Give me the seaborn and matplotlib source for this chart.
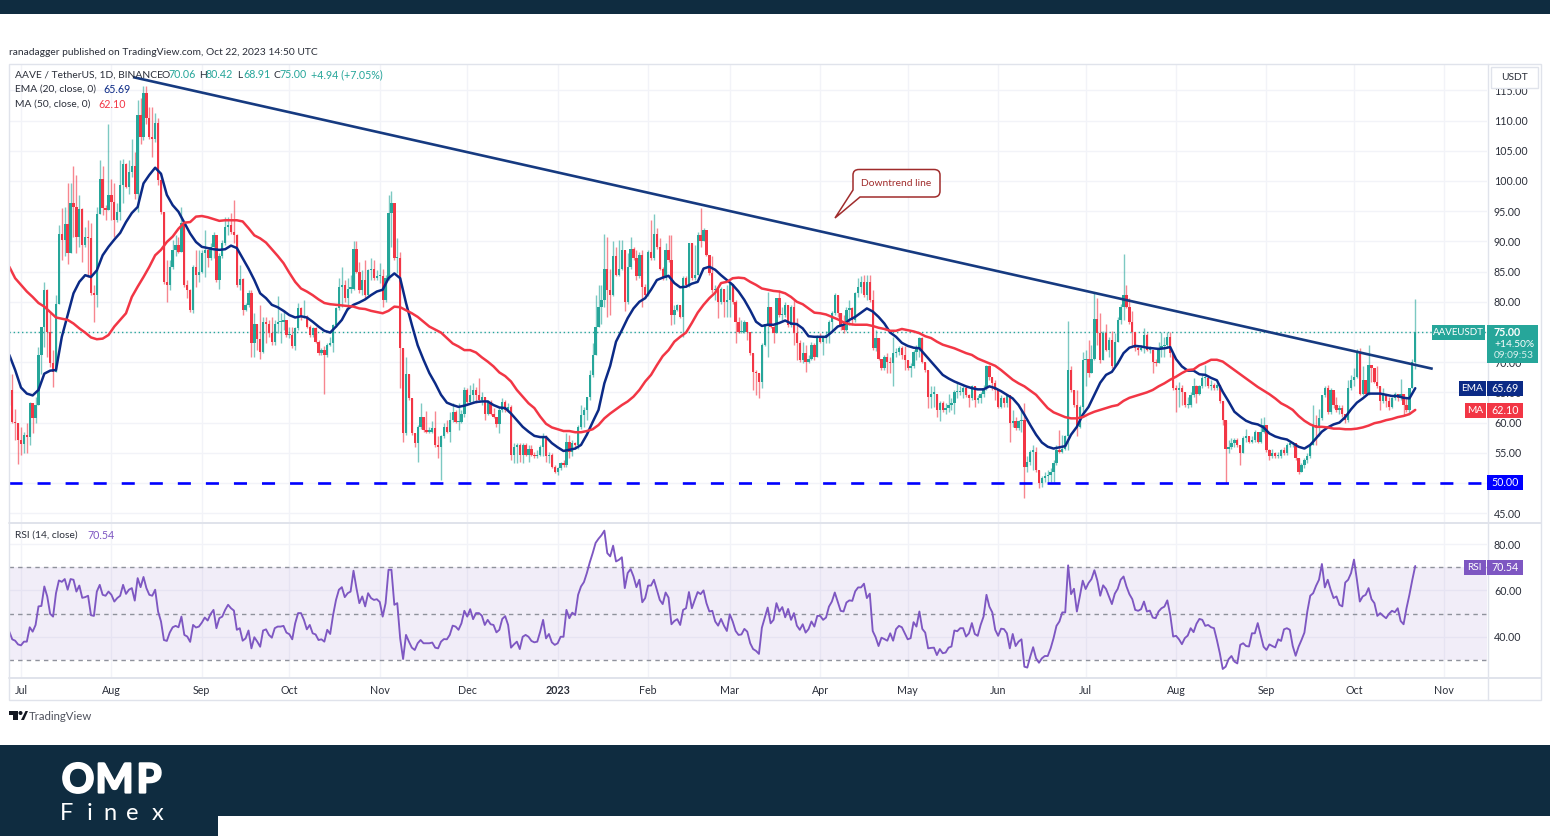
import numpy as np
import pandas as pd
import matplotlib
matplotlib.use('Agg')
import matplotlib.pyplot as plt
import matplotlib.patheffects as pe
import seaborn as sns
from matplotlib.patches import Rectangle, Polygon, PathPatch, Circle
from matplotlib.path import Path

sns.set_theme(style='white')
plt.rcParams['font.family'] = ['Lato', 'DejaVu Sans']
plt.rcParams['lines.scale_dashes'] = False

# daily candles, one (close, high, low) per day, open = previous close
first_open = 63.0
jun22 = [(65.4,68.1,62.9),(60.1,68.1,59.9),(59.9,62.3,57.1),(57.1,59.9,53.2)]
jul22 = [(56.5,59.3,54.6),(57.9,58.5,54.9),(57.6,59.9,54.9),(63.2,63.4,56.3),(60.7,63.2,58.2),(62.9,64.3,59.9),
         (71.2,72.5,62.9),(75.9,75.9,68.1),(81.9,83.3,72.5),(75.0,82.2,70.9),(69.8,78.1,69.2),(68.4,72.0,65.9),
         (79.7,81.1,68.4),(91.3,92.7,79.7),(90.3,95.5,86.9),(92.9,95.7,87.5),(88.0,99.6,86.3),(96.3,99.6,88.0),
         (95.7,102.4,90.8),(90.7,101.0,88.0),(95.3,97.7,89.1),(89.4,95.5,86.6),(90.8,92.4,89.1),(90.5,93.5,84.1),
         (81.4,93.0,81.1),(81.1,82.8,76.7),(94.6,95.7,79.2),(100.4,103.5,94.6),(95.5,102.4,94.3),(95.2,96.0,93.5),
         (97.7,109.5,95.2)]
aug22 = [(96.6,100.4,93.5),(93.5,99.6,90.8),(94.9,96.3,93.2),(99.3,103.5,93.5),(102.8,103.7,96.3),(99.0,102.9,98.8),
         (101.5,103.5,97.9),(102.4,107.0,100.7),(97.9,104.8,97.1),(110.9,113.4,94.9),(107.3,113.7,106.2),(114.5,115.8,106.8),
         (110.4,115.8,109.5),(107.3,112.3,107.0),(107.0,112.3,104.0),(109.6,111.2,106.5),(100.1,110.4,99.3),(94.9,101.2,94.6),
         (83.3,94.9,83.0),(82.8,86.9,80.0),(85.8,86.9,81.9),(88.6,90.2,85.5),(89.4,91.0,87.5),(88.3,90.8,88.0),
         (93.0,95.7,88.3),(82.8,93.0,82.5),(81.9,83.6,80.6),(78.6,82.2,78.3),(85.8,86.1,78.1),(84.4,88.6,82.5),
         (85.0,88.6,83.3)]
sep22 = [(88.0,88.6,84.7),(88.6,91.9,84.1),(87.2,89.1,85.8),(89.1,89.7,87.0),(91.1,91.6,87.2),(83.6,91.1,83.3),
         (87.5,88.0,82.2),(89.7,90.2,87.2),(92.4,94.1,89.4),(92.7,94.1,91.1),(91.6,94.7,91.3),(91.1,96.9,89.7),
         (82.8,91.3,82.5),(83.7,86.1,82.0),(78.6,83.9,77.8),(79.5,79.8,78.4),(81.4,82.0,79.2),(73.1,82.0,70.9),
         (76.3,78.1,70.9),(73.9,76.4,72.0),(71.7,79.5,70.6),(76.7,77.5,71.5),(76.4,77.5,73.1),(74.8,77.0,74.2),
         (73.4,77.5,72.9),(76.4,77.0,72.9),(76.7,80.9,74.8),(76.7,78.1,73.1),(77.0,78.6,75.3),(74.5,77.0,74.2)]
oct22 = [(74.5,75.9,74.0),(72.6,75.9,72.3),(75.6,75.9,72.0),(78.9,79.8,75.3),(77.5,79.2,77.0),(77.5,80.3,77.3),
         (75.9,77.8,75.6),(74.5,76.2,74.2),(75.6,75.9,74.2),(73.4,75.9,73.1),(71.5,73.7,71.2),(72.0,72.3,71.2),
         (71.2,72.6,64.8),(72.9,73.1,70.9),(73.1,74.2,72.6),(76.2,76.4,71.7),(78.9,79.2,75.9),(82.5,83.9,78.6),
         (82.8,85.8,79.2),(80.6,83.6,80.0),(82.2,83.9,78.6),(82.2,84.4,81.4),(88.8,90.0,82.0),(85.0,90.0,84.7),
         (82.0,86.6,81.4),(83.6,85.3,81.1),(81.1,86.9,80.6),(85.3,85.5,80.9),(85.5,87.2,83.6),(83.9,86.9,83.6),
         (84.2,85.3,83.6)]
nov22 = [(84.2,86.4,83.1),(80.3,85.5,79.2),(83.9,84.4,80.0),(94.7,97.7,83.6),(96.3,98.3,89.1),(87.2,96.3,86.9),
         (87.2,90.5,84.7),(72.3,88.3,65.7),(58.2,72.3,56.8),(68.0,70.9,58.0),(64.0,68.0,63.7),(58.2,64.0,58.0),
         (56.7,58.2,56.0),(59.3,59.6,53.5),(60.9,63.2,59.0),(58.8,60.9,58.5),(58.5,62.0,58.2),(58.5,59.3,58.2),
         (59.1,60.2,58.2),(56.3,62.0,56.0),(56.0,57.7,54.1),(57.7,58.0,50.5),(59.3,59.9,57.4),(58.5,60.4,58.2),
         (60.4,61.8,56.8),(61.8,63.2,60.1),(60.1,62.1,59.9),(60.1,63.2,58.8),(61.5,62.1,59.9),(65.4,65.9,61.0)]
dec22 = [(63.4,65.7,62.9),(64.6,66.2,63.2),(65.4,66.5,63.2),(64.6,65.9,63.2),(63.7,67.3,63.4),(64.3,65.1,62.9),
         (61.5,64.3,60.4),(63.4,63.7,61.2),(61.5,63.7,61.2),(61.0,62.4,60.7),(59.8,61.0,59.3),(62.1,62.6,58.2),
         (63.4,64.0,61.8),(62.1,63.7,61.8),(62.6,63.2,61.8),(54.6,62.9,53.8),(56.0,56.6,53.3),(56.3,56.6,53.3),
         (54.6,56.6,53.5),(56.3,56.6,53.3),(54.6,56.6,54.4),(55.7,56.3,53.5),(54.6,56.3,54.4),(54.4,55.2,54.1),
         (54.6,55.5,54.1),(56.0,56.3,54.4),(57.8,58.2,54.4),(54.4,57.9,53.5),(54.6,55.2,53.3),(52.7,54.9,52.4),
         (51.9,53.0,51.6)]
jan23 = [(52.4,52.7,51.3),(53.3,53.5,52.1),(53.0,53.8,52.7),(56.8,58.2,52.7),(55.2,57.9,54.1),(56.6,57.1,54.4),
         (56.3,56.8,55.7),(59.3,59.6,55.7),(61.2,62.9,59.0),(62.1,62.6,59.3),(64.3,64.3,60.4),(67.9,68.7,63.7),
         (71.2,73.1,67.6),(75.9,81.1,71.2),(79.2,82.8,75.9),(80.3,82.8,76.4),(85.5,91.3,79.2),(82.0,90.8,77.5),
         (81.1,85.5,77.8),(87.5,90.0,80.9),(84.4,89.1,84.2),(85.5,90.2,84.2),(88.6,90.2,85.3),(80.0,88.6,78.4),
         (85.8,88.0,79.7),(88.8,90.8,85.5),(87.2,89.1,86.9),(84.2,88.6,83.6),(87.7,88.3,83.9),(82.5,88.6,79.2),
         (81.1,83.0,80.9)]
feb23 = [(88.3,88.6,80.9),(87.2,93.5,86.9),(91.3,94.5,86.9),(89.1,92.2,88.8),(85.5,90.5,85.3),(83.9,85.8,83.6),
         (88.6,89.7,83.6),(87.0,91.0,86.6),(77.8,91.0,76.2),(78.6,79.5,76.4),(79.5,79.7,78.4),(77.5,79.5,77.3),
         (83.9,84.2,74.2),(82.8,84.2,82.5),(89.7,89.7,82.5),(83.9,89.7,83.6),(84.4,89.4,83.6),(91.0,91.5,84.4),
         (90.0,95.5,89.0),(91.9,92.2,90.0),(87.7,91.9,87.5),(84.7,87.7,84.4),(82.0,87.5,81.4),(82.2,82.8,80.3),
         (80.0,82.2,77.3),(82.2,82.5,79.7),(80.0,82.2,77.5),(80.3,82.8,77.5)]
mar23 = [(83.0,83.3,77.5),(80.0,83.0,79.7),(76.7,80.3,73.1),(75.0,77.5,74.8),(75.0,77.0,74.8),(76.7,77.0,74.8),
         (75.0,76.7,73.7),(71.5,75.0,71.2),(68.4,71.5,65.4),(68.2,68.7,64.6),(66.8,68.2,64.0),(72.8,73.1,65.7),
         (76.4,76.4,72.6),(79.2,81.7,70.9),(75.9,79.2,75.6),(74.8,76.2,73.1),(80.6,80.6,74.8),(77.8,82.0,77.5),
         (77.8,79.2,77.0),(79.5,80.0,77.5),(76.2,79.5,75.9),(79.2,79.5,75.9),(74.8,80.3,72.8),(73.1,77.3,70.4),
         (70.4,73.7,70.1),(71.5,73.4,69.8),(70.1,72.8,68.4),(70.6,71.2,69.8),(72.8,73.4,70.4),(70.9,73.1,70.4),
         (74.2,74.5,70.9)]
apr23 = [(73.4,74.8,73.1),(74.0,74.2,71.2),(74.5,75.1,73.1),(76.7,77.0,73.1),(78.1,78.4,75.3),(81.1,81.5,77.8),
         (78.1,81.1,77.5),(76.2,78.1,75.3),(75.3,77.8,74.8),(78.6,79.2,75.1),(78.9,80.3,76.2),(77.0,79.2,76.2),
         (81.4,81.7,76.7),(82.5,83.9,80.8),(83.3,84.2,81.4),(81.1,84.4,80.8),(83.3,84.4,80.3),(80.3,84.4,80.0),
         (72.3,81.9,72.0),(74.0,75.3,71.8),(70.6,74.0,70.4),(69.0,70.6,68.7),(70.9,71.2,68.7),(70.1,71.5,68.2),
         (69.8,70.9,68.2),(71.5,74.2,66.0),(71.7,72.3,70.9),(72.3,72.6,71.2),(71.2,72.6,70.6),(70.4,72.6,68.7)]
may23 = [(69.0,70.4,68.7),(69.3,69.8,67.6),(71.7,72.0,69.0),(72.3,72.8,70.4),(74.0,74.2,70.9),(70.1,74.2,69.8),
         (68.7,70.1,68.4),(64.3,68.7,62.4),(64.8,66.0,62.4),(64.8,66.0,62.6),(62.1,64.8,61.0),(63.2,63.5,60.2),
         (62.1,63.5,61.8),(62.4,63.2,61.5),(62.9,64.8,61.8),(63.2,64.0,62.1),(65.1,65.4,61.5),(65.1,66.8,64.0),
         (65.1,66.0,64.6),(65.7,66.0,64.0),(64.6,66.0,64.3),(64.0,64.8,62.6),(66.0,66.2,63.7),(63.7,66.0,62.6),
         (64.0,64.6,63.2),(64.8,65.1,63.2),(65.7,66.2,64.3),(69.3,69.5,65.4),(67.6,69.5,67.1),(66.5,67.6,65.4),
         (65.4,67.1,63.7)]
jun23 = [(62.6,65.4,62.4),(64.0,64.6,62.4),(63.2,64.3,62.6),(64.6,64.8,62.6),(59.9,64.6,56.8),(60.2,62.1,59.3),
         (59.1,61.0,58.8),(60.2,60.4,58.8),(60.4,62.1,58.5),(52.7,63.2,47.5),(53.5,54.4,51.9),(55.2,55.5,53.0),
         (55.2,56.3,52.2),(52.2,56.0,51.9),(50.0,52.2,49.1),(50.8,51.1,49.4),(51.1,51.9,50.2),(51.3,52.2,50.2),
         (51.9,52.4,50.2),(53.3,53.8,50.2),(55.5,56.3,53.0),(55.2,58.8,54.9),(55.7,58.0,54.9),(57.7,58.0,55.5),
         (68.7,76.9,55.5),(65.4,69.3,65.1),(62.9,65.4,62.6),(59.3,65.4,57.7),(62.6,62.9,59.1),(70.4,71.7,61.0)]
jul23 = [(70.6,72.0,66.0),(68.2,73.7,67.6),(70.6,72.8,68.2),(77.1,81.4,70.4),(74.8,80.6,72.8),(70.4,78.1,69.8),
         (74.8,75.1,70.4),(72.0,76.4,71.8),(73.7,74.2,70.9),(69.3,75.1,69.0),(73.4,74.8,69.3),(77.0,77.5,73.4),
         (79.2,79.7,76.4),(81.1,87.9,77.0),(79.2,82.8,78.9),(76.7,80.6,76.4),(75.0,78.4,72.6),(72.3,75.0,71.8),
         (72.0,72.8,71.2),(72.3,72.8,71.8),(74.5,75.6,71.5),(72.0,74.8,71.8),(72.0,72.6,71.5),(70.1,72.0,68.2),
         (69.8,70.6,69.3),(72.3,73.4,69.8),(72.6,75.0,70.9),(72.8,74.2,70.9),(74.2,75.0,72.3),(71.5,75.0,70.9),
         (65.7,71.5,65.4)]
aug23 = [(65.4,66.2,61.8),(65.7,66.8,62.6),(65.1,66.2,62.9),(62.9,65.1,62.6),(62.9,64.3,62.4),(64.6,65.1,62.6),
         (66.0,67.3,64.3),(64.8,66.2,63.2),(66.0,66.2,64.6),(67.3,67.9,65.7),(67.3,69.5,66.0),(66.0,67.3,65.7),
         (66.2,67.1,65.4),(65.7,66.5,65.4),(66.2,66.8,65.4),(63.5,66.2,63.2),(60.4,63.5,59.6),(55.6,60.4,50.0),
         (56.0,57.1,54.9),(56.6,57.4,55.7),(57.1,57.4,56.0),(56.3,57.4,56.0),(54.9,56.3,53.0),(57.4,57.7,54.9),
         (57.7,59.0,56.8),(56.8,57.7,56.6),(57.1,57.7,56.6),(58.5,58.8,56.8),(56.8,58.5,56.6),(58.5,60.7,56.6),
         (59.6,61.0,58.2)]
sep23 = [(55.5,59.6,55.2),(54.4,55.7,53.8),(54.9,55.7,54.1),(54.4,55.2,54.1),(54.5,55.2,54.2),(55.5,55.7,54.2),
         (54.9,56.0,54.6),(56.3,56.6,54.6),(56.6,56.8,56.0),(56.6,56.8,56.0),(54.1,56.6,53.8),(51.9,54.1,51.5),
         (53.0,53.3,51.9),(53.8,54.1,52.4),(54.4,54.9,53.3),(56.3,56.6,54.1),(59.6,62.9,56.3),(59.3,61.2,56.3),
         (60.7,62.2,57.7),(64.6,64.6,60.4),(65.7,66.0,64.3),(61.8,66.2,61.5),(65.4,65.7,61.5),(62.9,65.1,62.4),
         (62.1,64.3,61.8),(62.4,62.9,61.5),(61.5,62.9,61.0),(60.4,61.5,59.9),(65.7,67.1,60.1),(67.1,67.9,65.4)]
oct23 = [(67.6,69.0,66.0),(71.7,72.2,67.3),(64.8,72.3,64.6),(67.1,69.3,64.6),(64.8,67.1,64.6),(69.5,72.8,64.6),
         (69.0,69.5,66.8),(66.8,69.0,66.5),(66.0,69.3,65.7),(63.5,66.0,62.1),(64.6,65.7,63.2),(63.5,64.6,62.6),
         (62.6,64.3,62.1),(64.0,64.3,62.4),(64.8,65.1,63.7),(64.0,64.8,63.5),(64.8,67.2,63.7),(62.9,64.8,61.2),
         (62.1,64.0,61.8),(65.7,65.7,61.5),(70.06,70.5,65.7),(75.0,80.42,68.91)]

ema20 = [71.2,68.7,65.8,64.8,64.5,65.4,68.1,68.6,68.7,74.2,77.8,81.4,83.3,84.4,84.1,85.2,87.7,89.1,90.3,91.4,93.2,94.7,95.7,99.6,
         101.0,102.2,101.2,97.7,96.0,94.9,93.1,91.3,89.9,89.1,
         88.9,88.7,88.6,88.7,89.3,88.9,87.2,85.5,83.6,81.4,80.6,79.5,79.1,78.5,77.8,77.4,77.6,77.4,76.7,75.9,75.2,74.9,75.9,77.0,
         78.8,79.5,79.9,80.4,81.1,81.7,82.0,83.9,84.7,83.9,79.8,76.2,72.8,70.4,68.2,66.5,64.6,63.3,
         62.9,62.6,62.8,63.1,63.4,63.5,63.5,62.9,62.5,62.4,61.5,60.4,59.3,58.5,57.8,57.6,57.6,56.6,55.9,55.3,55.5,55.7,56.3,58.0,
         60.1,62.1,66.5,69.4,73.4,75.3,77.3,78.9,80.0,80.6,82.0,83.6,84.0,84.3,83.1,82.4,82.5,83.0,83.3,85.5,85.8,85.3,84.4,83.6,
         82.8,81.7,80.3,78.6,76.7,76.0,76.2,76.2,76.5,76.9,76.4,76.3,
         75.6,74.3,74.2,74.2,74.2,75.0,75.9,76.2,77.0,77.5,78.2,78.9,78.4,77.5,76.4,74.9,74.2,73.2,72.7,72.4,72.3,71.2,70.1,69.0,
         67.9,67.3,66.8,66.4,66.0,65.7,65.5,65.5,66.0,65.7,65.2,64.6,64.0,62.9,61.3,59.6,58.0,56.7,56.0,55.7,55.9,56.1,58.0,59.3,
         61.3,62.6,64.6,66.6,67.9,68.4,69.8,71.5,72.4,72.7,72.6,72.4,72.3,72.2,72.3,72.5,70.5,69.3,68.6,68.6,
         68.0,67.9,67.4,67.0,65.1,63.5,61.8,61.0,60.3,59.9,59.7,59.2,58.2,57.7,57.4,57.2,56.6,56.0,55.7,56.3,57.4,58.5,59.2,59.7,
         60.0,60.9,62.2,63.3,64.0,64.8,64.8,64.8,64.6,64.4,64.4,64.1,64.0,65.69]
ma50 = [85.8,83.9,82.8,81.7,80.8,79.8,79.2,78.3,77.4,77.2,77.0,76.4,75.6,74.9,74.1,73.8,73.9,74.5,75.9,77.0,78.1,80.8,82.5,84.1,
        85.8,87.7,88.6,89.9,90.8,92.1,93.1,93.2,94.1,94.2,
        94.0,93.7,93.4,93.5,93.5,93.5,93.3,92.2,91.0,90.5,89.8,88.7,87.6,86.4,84.8,83.3,82.2,81.7,81.1,80.4,79.8,79.6,79.5,79.4,
        79.3,79.2,78.9,78.8,78.5,78.3,78.1,78.5,79.2,79.1,78.6,78.1,77.5,76.7,75.9,75.4,74.9,74.0,
        73.1,72.6,72.0,72.0,71.6,70.8,70.1,69.3,68.3,67.7,66.8,65.4,64.3,63.2,62.4,61.0,59.8,59.2,58.9,58.6,58.6,58.4,58.4,58.6,
        58.9,59.6,60.7,61.5,62.2,62.9,63.5,64.3,65.4,66.8,67.9,69.5,71.0,72.0,73.4,74.2,74.9,76.5,78.2,79.5,80.6,81.5,83.1,83.3,
        83.9,84.0,83.9,83.3,82.8,82.2,82.0,81.8,81.7,81.4,80.8,80.0,
        79.6,78.9,78.2,78.1,77.9,77.5,77.1,76.6,76.3,76.2,76.2,76.2,76.0,75.7,75.5,75.2,75.2,75.5,75.3,75.1,74.8,74.3,74.0,73.4,
        72.9,72.6,72.3,71.9,71.5,71.2,70.6,70.2,69.8,69.4,68.7,67.9,67.1,66.5,66.0,65.3,64.6,63.5,62.4,61.7,61.3,60.9,60.7,60.7,
        60.9,61.4,61.8,62.1,62.4,62.7,62.9,63.6,64.1,64.4,64.7,65.0,65.4,66.0,66.5,67.1,67.6,68.2,68.7,68.8,
        69.5,69.9,70.4,70.4,70.1,69.4,68.7,68.0,67.3,66.6,65.9,65.3,64.7,64.0,63.2,62.7,62.1,61.1,60.3,59.7,59.3,59.3,59.2,59.0,
        59.0,58.9,58.9,59.0,59.2,59.5,59.9,60.1,60.4,60.6,60.9,61.1,61.4,62.1]

rsi14 = [42.2,38.9,38.3,36.7,36.3,37.9,37.9,44.1,42.2,45.1,53.1,53.3,61.7,57.4,49.9,48.7,58.8,64.3,63.7,64.9,
         60.3,64.9,64.6,59.5,62.1,56.8,57.1,57.7,49.3,49.0,59.5,62.4,58.1,57.7,59.5,58.1,55.2,56.7,57.7,62.4,
         58.5,60.3,61.0,55.6,65.3,61.4,65.8,61.0,58.1,57.7,60.3,50.9,46.6,38.6,38.2,41.8,44.1,44.7,44.1,48.7,
         40.8,40.1,37.8,45.1,44.0,44.4,46.1,48.3,47.0,49.8,51.6,43.7,48.0,48.7,51.6,53.8,52.3,51.3,43.0,43.7,
         38.3,39.3,42.7,35.0,39.8,37.9,35.7,42.7,43.2,40.8,39.6,43.7,44.4,44.4,44.7,41.8,41.1,38.9,45.8,50.2,
         50.2,47.3,43.2,45.1,41.5,41.0,38.6,38.9,37.9,43.0,41.2,49.4,55.9,60.3,61.4,57.1,58.8,59.5,68.5,61.0,
         54.5,57.4,53.1,58.8,56.7,55.9,56.2,55.0,48.7,54.5,
         68.9,68.9,53.8,54.5,39.3,30.4,40.8,37.9,35.3,34.3,37.2,38.6,37.2,37.2,37.2,37.5,35.3,35.0,37.9,39.0,
         38.9,40.8,44.8,44.4,43.0,45.8,51.2,48.7,51.9,47.6,50.2,50.2,49.1,45.1,47.3,45.4,45.1,41.9,43.0,47.7,
         48.9,45.1,35.3,36.7,37.9,34.7,40.0,40.8,40.0,38.2,37.6,37.9,42.2,47.3,39.3,41.2,37.6,36.5,37.2,40.0,
         40.0,51.6,48.0,50.4,49.4,58.1,61.7,63.6,67.5,72.1,76.1,80.5,82.3,83.8,85.8,76.1,74.7,79.3,72.5,73.2,
         74.3,61.0,67.5,69.2,66.0,61.4,64.6,54.9,56.7,62.1,62.1,64.6,60.3,55.9,54.1,59.1,56.9,45.4,46.8,47.6,
         45.1,51.6,52.3,59.3,52.3,55.9,59.3,58.4,60.0,54.5,50.9,51.2,46.6,44.8,47.7,44.8,42.5,49.7,46.6,42.5,
         40.8,41.0,43.4,42.2,37.2,34.7,33.9,32.6,43.9,48.3,52.6,45.8,47.3,54.5,50.9,
         52.8,48.4,52.0,47.3,50.2,44.8,43.0,45.4,41.8,43.3,46.6,44.4,49.0,49.0,47.3,48.3,53.0,55.2,59.1,55.2,
         51.2,50.9,54.8,55.7,55.5,59.6,61.3,61.3,62.9,56.7,58.6,42.5,39.8,36.0,39.6,39.0,38.3,41.5,38.3,43.3,
         44.7,44.1,41.5,38.9,39.4,46.3,44.4,50.9,43.4,41.8,35.0,35.2,35.3,32.1,34.7,32.9,33.2,35.3,35.8,42.7,
         42.4,43.7,43.7,40.1,41.5,45.9,41.2,40.4,45.1,48.7,58.1,53.0,50.5,43.0,40.4,43.5,43.3,41.5,35.0,41.2,
         36.0,37.9,38.9,27.1,26.7,31.4,35.5,30.7,28.8,30.7,31.7,31.7,35.0,39.4,44.7,46.6,50.5,50.5,70.8,58.4,
         60.7,50.9,57.4,64.2,60.6,63.2,64.9,68.7,64.3,57.7,62.2,60.6,57.4,54.1,58.6,60.7,64.6,66.0,61.7,58.4,
         56.2,51.6,51.2,51.9,55.2,50.9,51.3,48.3,48.0,50.9,52.3,53.0,55.7,49.5,40.1,40.4,38.9,36.8,39.4,40.5,
         43.7,42.0,45.6,47.7,47.3,44.7,45.1,44.1,43.7,38.6,32.9,26.1,27.1,30.3,31.7,29.3,28.5,36.5,37.2,36.0,
         35.8,41.5,41.5,45.9,40.8,
         35.7,34.3,36.7,36.0,35.4,38.9,38.2,43.2,43.7,43.0,36.0,31.8,35.7,38.6,41.8,50.9,57.7,58.8,62.0,64.6,
         71.4,61.3,64.6,60.3,56.7,57.4,53.8,53.1,63.4,64.6,67.5,73.3,64.6,55.2,57.4,58.1,61.0,56.2,54.5,49.0,
         50.2,49.0,48.0,49.9,51.2,50.6,52.3,46.8,45.4,52.3,58.1,64.6,70.54]

price_ticks = [45, 50, 55, 60, 65, 70, 75, 80, 85, 90, 95, 100, 105, 110, 115]
price_labels = ['45.00', '', '55.00', '60.00', '65.00', '70.00', '', '80.00', '85.00', '90.00', '95.00', '100.00', '105.00', '110.00', '115.00']
rsi_ticks = [40, 60, 80]
month_labels = ['Jul','Aug','Sep','Oct','Nov','Dec','2023','Feb','Mar','Apr','May','Jun','Jul','Aug','Sep','Oct','Nov']
month_days = [0,31,62,92,123,153,184,215,243,274,304,335,365,396,427,457,488]  # days since 2022-07-01
resistance_days = [38.4, 484.0]
resistance_vals = [117.2, 68.9]
support_level = 50.0
last_close = 75.0

candles = np.array(jun22+jul22+aug22+sep22+oct22+nov22+dec22+jan23+feb23+mar23+apr23+may23+jun23+jul23+aug23+sep23+oct23)
closes, highs, lows = candles[:, 0], candles[:, 1], candles[:, 2]
opens = np.r_[first_open, closes[:-1]]
days = np.arange(len(closes)) - 4
ind_days = days[::2]
assert len(closes) == 483 and len(rsi14) == 483, (len(closes), len(rsi14))
assert len(ema20) == len(ind_days) and len(ma50) == len(ind_days), (len(ema20), len(ma50), len(ind_days))
ema_df = pd.DataFrame({'day': ind_days, 'ema': ema20})
ma_df = pd.DataFrame({'day': ind_days, 'ma': ma50})
rsi_df = pd.DataFrame({'day': days, 'rsi': rsi14})

TEAL, RED, NAVY, PURPLE = '#26a69a', '#f23645', '#0b2a86', '#7e57c2'
DARK = '#0f2c40'
INK = '#2a2e39'
W, H = 1550, 836
TICK = 7.7
LABEL = 7.4

fig = plt.figure(figsize=(15.5, 8.36), dpi=100, facecolor='white')

def pane(x0, y0, x1, y1):
    return fig.add_axes([x0/W, 1-y1/H, (x1-x0)/W, (y1-y0)/H])

#price pane
ax = pane(9, 64, 1487, 522)
ax.set_xlim(-4.11, 502.6)
ax.set_ylim(43.54, 119.37)
up = closes >= opens
for mask, col in [(up, TEAL), (~up, RED)]:
    ax.vlines(days[mask], lows[mask], highs[mask], color=col, lw=1.0, alpha=0.6, zorder=2)
    bottoms = np.minimum(opens, closes)[mask]
    heights = np.maximum(np.abs(closes-opens)[mask], 0.2)
    ax.bar(days[mask], heights, bottom=bottoms, width=0.8, color=col, zorder=3, linewidth=0)
ax.axhline(last_close, color=TEAL, lw=1, ls=(0, (1, 2)), zorder=1)
ax.axhline(support_level, color='#0000ff', lw=1.9, ls=(0, (9.4, 10.8)), dash_capstyle='butt', zorder=2)
sns.lineplot(data=ema_df, x='day', y='ema', ax=ax, color=NAVY, lw=1.8, estimator=None, zorder=5)
sns.lineplot(data=ma_df, x='day', y='ma', ax=ax, color=RED, lw=1.8, estimator=None, zorder=5)
ax.plot(resistance_days, resistance_vals, color='#163a80', lw=1.9, zorder=6, solid_capstyle='butt')
ax.yaxis.tick_right()
ax.set_yticks(price_ticks)
ax.set_yticklabels(price_labels, fontsize=TICK, color=INK)
ax.set_xticks(month_days)
ax.tick_params(axis='x', length=0, labelbottom=False)
ax.tick_params(axis='y', length=0, pad=5)
ax.grid(True, color='#f2f3f8', lw=1)
ax.set_axisbelow(True)
ax.set_xlabel('')
ax.set_ylabel('')
for s in ax.spines.values():
    s.set_visible(False)

#rsi pane
ax2 = pane(9, 523, 1487, 677)
ax2.set_xlim(-4.11, 502.6)
ax2.set_ylim(22.64, 89.09)
ax2.axhspan(30, 70, color=PURPLE, alpha=0.1, lw=0, zorder=1)
for lev in (30, 50, 70):
    ax2.axhline(lev, color='#8f929c', lw=1, ls=(0, (3.2, 3)), zorder=2)
sns.lineplot(data=rsi_df, x='day', y='rsi', ax=ax2, color=PURPLE, lw=1.35, estimator=None, zorder=4)
ax2.yaxis.tick_right()
ax2.set_yticks(rsi_ticks)
ax2.set_yticklabels(['%.2f' % v for v in rsi_ticks], fontsize=TICK, color=INK)
ax2.set_xticks(month_days)
ax2.tick_params(axis='x', length=0, pad=6)
ax2.set_xticklabels(month_labels, fontsize=TICK, color=INK)
ax2.get_xticklabels()[6].set_fontweight('bold')
ax2.tick_params(axis='y', length=0, pad=5)
ax2.grid(True, color='#f2f3f8', lw=1)
ax2.set_axisbelow(True)
ax2.set_xlabel('')
ax2.set_ylabel('')
for s in ax2.spines.values():
    s.set_visible(False)

#page furniture in pixel coords
ov = fig.add_axes([0, 0, 1, 1], zorder=10)
ov.set_xlim(0, W)
ov.set_ylim(H, 0)
ov.axis('off')
ov.patch.set_alpha(0)

def box(x0, y0, x1, y1, fc, ec='none', lw=0, z=3):
    ov.add_patch(Rectangle((x0, y0), x1-x0, y1-y0, fc=fc, ec=ec, lw=lw, zorder=z))

def txt(x, y, s, color=INK, size=LABEL, ha='left', **kw):
    return ov.text(x, y, s, color=color, fontsize=size, ha=ha, va='center', zorder=6, **kw)

box(0, 0, W, 14, DARK)
box(0, 745, W, 836, DARK)
box(218, 816, W, 836, 'white', z=4)
box(9, 64, 1541, 700, 'none', ec='#e0e3eb', lw=1)
ov.plot([9, 1541], [522.5, 522.5], color='#e0e3eb', lw=1.4, zorder=2)
ov.plot([9, 1541], [677.5, 677.5], color='#e0e3eb', lw=1.4, zorder=2)
ov.plot([1487.5, 1487.5], [64, 700], color='#e0e3eb', lw=1, zorder=2)

txt(9, 52.5, 'ranadagger published on TradingView.com, Oct 22, 2023 14:50 UTC')
txt(15, 75, 'AAVE / TetherUS, 1D, BINANCE')
for lx, vx, lab, val in [(161, 168, 'O', '70.06'), (199, 206, 'H', '80.42'), (237, 243, 'L', '68.91'), (273, 279, 'C', '75.00')]:
    txt(lx, 75, lab)
    txt(vx, 75, val, color=TEAL, size=TICK)
txt(311, 75, '+4.94 (+7.05%)', color=TEAL, size=TICK)
txt(15, 89.5, 'EMA (20, close, 0)')
txt(103, 89.5, '65.69', color=NAVY, size=TICK)
txt(15, 104, 'MA (50, close, 0)')
txt(98, 104, '62.10', color=RED, size=TICK)
txt(15, 535.5, 'RSI (14, close)')
txt(87, 535.5, '70.54', color=PURPLE, size=TICK)

#usdt button
box(1491, 67, 1538, 88, 'white', ec='#e0e3eb', lw=1)
txt(1514.5, 77.5, 'USDT', ha='center')

#axis badges
box(1432, 325, 1485, 340, TEAL)
txt(1458.5, 332.5, 'AAVEUSDT', color='white', ha='center', size=7)
box(1487, 325, 1538, 363, TEAL)
txt(1494, 332.5, '75.00', color='white', fontweight='bold', size=TICK)
txt(1494, 344.5, '+14.50%', color='white', size=7.3)
txt(1494, 356, '09:09:53', color='#d6efec', size=7.3)
for y0, x0, col, name, val in [(381, 1459, NAVY, 'EMA', '65.69'), (403, 1465, RED, 'MA', '62.10'), (560, 1464, PURPLE, 'RSI', '70.54')]:
    box(x0, y0, 1485.5, y0+15, col)
    box(1487, y0, 1523, y0+15, col)
    txt((x0+1485.5)/2, y0+7.5, name, color='white', ha='center', size=7.3)
    txt(1505, y0+7.5, val, color='white', ha='center', size=TICK)
box(1487, 475, 1523, 490, '#0000ff')
txt(1505, 482.5, '50.00', color='white', ha='center', size=TICK)

#callout
verts = [(859,169.5),(934,169.5),(940,169.5),(940,175),(940,191),(940,197),(934,197),(860,197),(835,218),(853,190),(853,175),(853,169.5),(859,169.5)]
codes = [Path.MOVETO,Path.LINETO,Path.CURVE3,Path.CURVE3,Path.LINETO,Path.CURVE3,Path.CURVE3,Path.LINETO,Path.LINETO,Path.LINETO,Path.LINETO,Path.CURVE3,Path.CURVE3]
ov.add_patch(PathPatch(Path(verts, codes), fc='white', ec='#a02c2c', lw=1.1, zorder=5))
txt(896, 183.5, 'Downtrend line', color='#a02c2c', ha='center')

#tradingview mark
ov.add_patch(Polygon([(9,711),(18,711),(18,720),(13,720),(13,715),(9,715)], fc='#131722', lw=0))
ov.add_patch(Circle((20.5,713), 2, fc='#131722', lw=0))
ov.add_patch(Polygon([(21,720),(25.5,711),(28,711),(24,720)], fc='#131722', lw=0))
txt(29, 716, 'TradingView', color='#50535e', size=8.2)

#omp logo
for lx, ch in [(78, 'O'), (114.5, 'M'), (149, 'P')]:
    t = txt(lx, 781, ch, color='white', size=29, ha='center', fontweight='bold')
    t.set_path_effects([pe.withStroke(linewidth=1.6, foreground='white')])
for lx, ch in [(67, 'F'), (89, 'i'), (110, 'n'), (132, 'e'), (158, 'x')]:
    txt(lx, 813, ch, color='white', size=17, ha='center')

plt.savefig('out.png', dpi=100)
